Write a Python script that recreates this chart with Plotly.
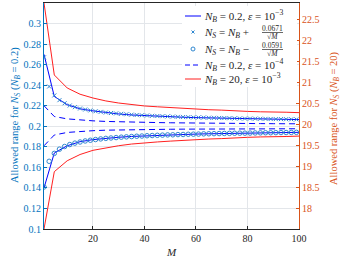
import plotly.graph_objects as go

# ---- data ----
M_line = [1, 5, 10, 15, 20, 25, 30, 35, 40, 45, 50, 55, 60, 65, 70, 75, 80, 85, 90, 95, 100]

blue_e3_upper = [0.270, 0.229, 0.221, 0.217, 0.2150, 0.2132, 0.2120, 0.2110, 0.2103, 0.2097,
                 0.2092, 0.2088, 0.2084, 0.2081, 0.2078, 0.2075, 0.2073, 0.2071, 0.2069, 0.2067, 0.2065]
blue_e3_lower = [0.140, 0.174, 0.181, 0.185, 0.187, 0.1883, 0.1893, 0.1901, 0.1907, 0.1913,
                 0.1917, 0.1921, 0.1924, 0.1927, 0.1930, 0.1932, 0.1934, 0.1936, 0.1938, 0.1940, 0.1941]

blue_e4_upper = [0.220, 0.2095, 0.2072, 0.2060, 0.2053, 0.2047, 0.2043, 0.2040, 0.2038, 0.2036,
                 0.2034, 0.2032, 0.2031, 0.2030, 0.2029, 0.2028, 0.2027, 0.2026, 0.2025, 0.2025, 0.2024]
blue_e4_lower = [0.181, 0.1915, 0.1940, 0.1950, 0.1957, 0.1962, 0.1965, 0.1967, 0.1969, 0.1970,
                 0.1971, 0.1972, 0.1973, 0.1973, 0.1974, 0.1974, 0.1975, 0.1975, 0.1976, 0.1976, 0.1976]

red_upper = [22.9, 21.18, 20.87, 20.72, 20.63, 20.56, 20.51, 20.47, 20.44, 20.42,
             20.40, 20.38, 20.36, 20.35, 20.34, 20.32, 20.31, 20.30, 20.30, 20.29, 20.28]
red_lower = [17.5, 18.87, 19.13, 19.28, 19.38, 19.44, 19.49, 19.53, 19.56, 19.58,
             19.60, 19.62, 19.64, 19.65, 19.66, 19.68, 19.69, 19.70, 19.70, 19.71, 19.72]

M_mark = [1, 3, 5, 7, 9, 11, 13, 15, 17, 19, 21, 23, 25, 27, 29, 31, 33, 35, 37, 39,
          41, 43, 45, 47, 49, 51, 53, 55, 57, 59, 61, 63, 65, 67, 69, 71, 73, 75, 77, 79,
          81, 83, 85, 87, 89, 91, 93, 95, 97, 99]
ns_plus = [0.2671, 0.2387, 0.2300, 0.2254, 0.2224, 0.2202, 0.2186, 0.2173, 0.2163, 0.2154,
           0.2146, 0.2140, 0.2134, 0.2129, 0.2125, 0.2121, 0.2117, 0.2113, 0.2110, 0.2107,
           0.2105, 0.2102, 0.2100, 0.2098, 0.2096, 0.2094, 0.2092, 0.2090, 0.2089, 0.2087,
           0.2086, 0.2085, 0.2083, 0.2082, 0.2081, 0.2080, 0.2079, 0.2077, 0.2076, 0.2075,
           0.2075, 0.2074, 0.2073, 0.2072, 0.2071, 0.2070, 0.2070, 0.2069, 0.2068, 0.2067]
ns_minus = [0.1409, 0.1659, 0.1736, 0.1777, 0.1803, 0.1822, 0.1836, 0.1847, 0.1857, 0.1864,
            0.1871, 0.1877, 0.1882, 0.1886, 0.1890, 0.1894, 0.1897, 0.1900, 0.1903, 0.1905,
            0.1908, 0.1910, 0.1912, 0.1914, 0.1916, 0.1917, 0.1919, 0.1920, 0.1922, 0.1923,
            0.1924, 0.1926, 0.1927, 0.1928, 0.1929, 0.1930, 0.1931, 0.1932, 0.1933, 0.1933,
            0.1934, 0.1935, 0.1936, 0.1937, 0.1937, 0.1938, 0.1939, 0.1939, 0.1940, 0.1941]

x_ticks = [20, 40, 60, 80, 100]
left_ticks = [0.1, 0.12, 0.14, 0.16, 0.18, 0.2, 0.22, 0.24, 0.26, 0.28, 0.3]
left_tick_text = ["0.1", "0.12", "0.14", "0.16", "0.18", "0.2", "0.22", "0.24", "0.26", "0.28", "0.3"]
right_ticks = [18, 18.5, 19, 19.5, 20, 20.5, 21, 21.5, 22, 22.5]
right_tick_text = ["18", "18.5", "19", "19.5", "20", "20.5", "21", "21.5", "22", "22.5"]

left_title = "Allowed range for <i>N</i><sub><i>S</i></sub> (<i>N</i><sub><i>B</i></sub> = 0.2)"
right_title = "Allowed range for <i>N</i><sub><i>S</i></sub> (<i>N</i><sub><i>B</i></sub> = 20)"
leg_e3 = "<i>N</i><sub><i>B</i></sub> = 0.2, <i>ε</i> = 10<sup>−3</sup>"
leg_plus = "<i>N</i><sub><i>S</i></sub> = <i>N</i><sub><i>B</i></sub> +"
leg_minus = "<i>N</i><sub><i>S</i></sub> = <i>N</i><sub><i>B</i></sub> −"
num_plus = "0.0671"
num_minus = "0.0591"
den = "√<i>M</i>"
leg_e4 = "<i>N</i><sub><i>B</i></sub> = 0.2, <i>ε</i> = 10<sup>−4</sup>"
leg_red = "<i>N</i><sub><i>B</i></sub> = 20, <i>ε</i> = 10<sup>−3</sup>"

# ---- styles / layout geometry ----
W, H = 340, 263
ML, MR, MT, MB = 44, 41, 3, 34
PW, PH = W - ML - MR, H - MT - MB
FONT = "Liberation Serif"
BLUE = "#0000ff"
RED = "#ff2020"
MARK = "#2f87d0"
LEFT_C = "#0072BD"
RIGHT_C = "#D95319"
TXT = "#262626"
GRID = "#e3e6ea"


def px(xp):
    return (xp - ML) / PW


def py(yp):
    return (H - MB - yp) / PH


fig = go.Figure()

fig.add_trace(go.Scatter(x=M_line, y=blue_e3_upper, mode="lines", line=dict(color=BLUE, width=1),
                         name="e3 upper", yaxis="y"))
fig.add_trace(go.Scatter(x=M_line, y=blue_e3_lower, mode="lines", line=dict(color=BLUE, width=1),
                         name="e3 lower", yaxis="y"))
fig.add_trace(go.Scatter(x=M_mark, y=ns_plus, mode="markers",
                         marker=dict(symbol="x-thin-open", size=4, color=MARK, line=dict(color=MARK, width=1)),
                         name="plus", yaxis="y"))
fig.add_trace(go.Scatter(x=M_mark, y=ns_minus, mode="markers",
                         marker=dict(symbol="circle-open", size=4.5, color=MARK, line=dict(color=MARK, width=1)),
                         name="minus", yaxis="y"))
fig.add_trace(go.Scatter(x=M_line, y=blue_e4_upper, mode="lines",
                         line=dict(color=BLUE, width=1, dash="6px,4px"), name="e4 upper", yaxis="y"))
fig.add_trace(go.Scatter(x=M_line, y=blue_e4_lower, mode="lines",
                         line=dict(color=BLUE, width=1, dash="6px,4px"), name="e4 lower", yaxis="y"))
fig.add_trace(go.Scatter(x=M_line, y=red_upper, mode="lines", line=dict(color=RED, width=1),
                         name="red upper", yaxis="y2"))
fig.add_trace(go.Scatter(x=M_line, y=red_lower, mode="lines", line=dict(color=RED, width=1),
                         name="red lower", yaxis="y2"))

# ---- hand-built legend (to allow stacked fractions and tight spacing) ----
rows_y = [16, 32, 49, 65, 79]
shapes = [
    dict(type="rect", xref="paper", yref="paper", x0=px(182), x1=px(297), y0=py(87), y1=py(6),
         fillcolor="white", line=dict(width=0), layer="above"),
    dict(type="line", xref="paper", yref="paper", x0=px(185), x1=px(201), y0=py(rows_y[0]), y1=py(rows_y[0]),
         line=dict(color=BLUE, width=1), layer="above"),
    dict(type="line", xref="paper", yref="paper", x0=px(185), x1=px(201), y0=py(rows_y[3]), y1=py(rows_y[3]),
         line=dict(color=BLUE, width=1, dash="5px,3px"), layer="above"),
    dict(type="line", xref="paper", yref="paper", x0=px(185), x1=px(201), y0=py(rows_y[4]), y1=py(rows_y[4]),
         line=dict(color=RED, width=1), layer="above"),
    # x marker
    dict(type="line", xref="paper", yref="paper", x0=px(191.5), x1=px(194.5), y0=py(rows_y[1] - 1.5), y1=py(rows_y[1] + 1.5),
         line=dict(color=MARK, width=1), layer="above"),
    dict(type="line", xref="paper", yref="paper", x0=px(191.5), x1=px(194.5), y0=py(rows_y[1] + 1.5), y1=py(rows_y[1] - 1.5),
         line=dict(color=MARK, width=1), layer="above"),
    # circle marker
    dict(type="circle", xref="paper", yref="paper", x0=px(191), x1=px(195), y0=py(rows_y[2] + 2), y1=py(rows_y[2] - 2),
         line=dict(color=MARK, width=1), layer="above"),
    # fraction bars
    dict(type="line", xref="paper", yref="paper", x0=px(262), x1=px(283), y0=py(rows_y[1] + 0.5), y1=py(rows_y[1] + 0.5),
         line=dict(color=TXT, width=0.7), layer="above"),
    dict(type="line", xref="paper", yref="paper", x0=px(262), x1=px(283), y0=py(rows_y[2] + 0.5), y1=py(rows_y[2] + 0.5),
         line=dict(color=TXT, width=0.7), layer="above"),
]

lf = dict(family=FONT, size=11, color=TXT)
sf = dict(family=FONT, size=7.5, color=TXT)


def ann(text, x, y, font, xanchor="left", yanchor="middle"):
    return dict(text=text, xref="paper", yref="paper", x=px(x), y=py(y), xanchor=xanchor,
                yanchor=yanchor, showarrow=False, font=font)


annotations = [
    ann(leg_e3, 202, rows_y[0], lf),
    ann(leg_plus, 202, rows_y[1] + 1, lf),
    ann(num_plus, 272.5, rows_y[1] - 3.5, sf, "center"),
    ann(den, 272.5, rows_y[1] + 4.5, sf, "center"),
    ann(leg_minus, 202, rows_y[2] + 1, lf),
    ann(num_minus, 272.5, rows_y[2] - 3.5, sf, "center"),
    ann(den, 272.5, rows_y[2] + 4.5, sf, "center"),
    ann(leg_e4, 202, rows_y[3], lf),
    ann(leg_red, 202, rows_y[4], lf),
    dict(text="<i>M</i>", xref="paper", yref="paper", x=0.5, y=py(252),
         xanchor="center", yanchor="middle", showarrow=False,
         font=dict(family=FONT, size=11, color=TXT)),
    dict(text=left_title, xref="paper", yref="paper", x=px(15), y=py(115),
         xanchor="center", yanchor="middle", textangle=-90, showarrow=False,
         font=dict(family=FONT, size=10.5, color=LEFT_C)),
    dict(text=right_title, xref="paper", yref="paper", x=px(334), y=py(118),
         xanchor="center", yanchor="middle", textangle=-90, showarrow=False,
         font=dict(family=FONT, size=10.5, color=RIGHT_C)),
]

fig.update_layout(
    width=W, height=H,
    margin=dict(l=ML, r=MR, t=MT, b=MB),
    paper_bgcolor="white", plot_bgcolor="white",
    font=dict(family=FONT, size=10, color=TXT),
    showlegend=False,
    xaxis=dict(range=[1, 100], tickvals=x_ticks, ticks="inside", ticklen=3,
               tickcolor=TXT, showline=True, linecolor=TXT, linewidth=1,
               mirror=True, showgrid=True, gridcolor=GRID, gridwidth=1, zeroline=False,
               automargin=False,
               tickfont=dict(family=FONT, size=10, color=TXT)),
    yaxis=dict(range=[0.1, 0.32], tickvals=left_ticks, ticktext=left_tick_text,
               ticks="inside", ticklen=3, tickcolor=LEFT_C,
               showline=True, linecolor=LEFT_C, linewidth=1,
               showgrid=True, gridcolor=GRID, gridwidth=1, zeroline=False,
               automargin=False,
               tickfont=dict(family=FONT, size=10, color=LEFT_C)),
    yaxis2=dict(range=[17.5, 22.9], tickvals=right_ticks, ticktext=right_tick_text,
                overlaying="y", side="right", anchor="x",
                ticks="inside", ticklen=3, tickcolor=RIGHT_C,
                showline=True, linecolor=RIGHT_C, linewidth=1,
                showgrid=False, zeroline=False, automargin=False,
                tickfont=dict(family=FONT, size=10, color=RIGHT_C)),
    shapes=shapes,
    annotations=annotations,
)

fig.write_html("out.html", config={"displayModeBar": False},
               post_script="document.body.style.margin='0px';document.body.style.padding='0px';")
